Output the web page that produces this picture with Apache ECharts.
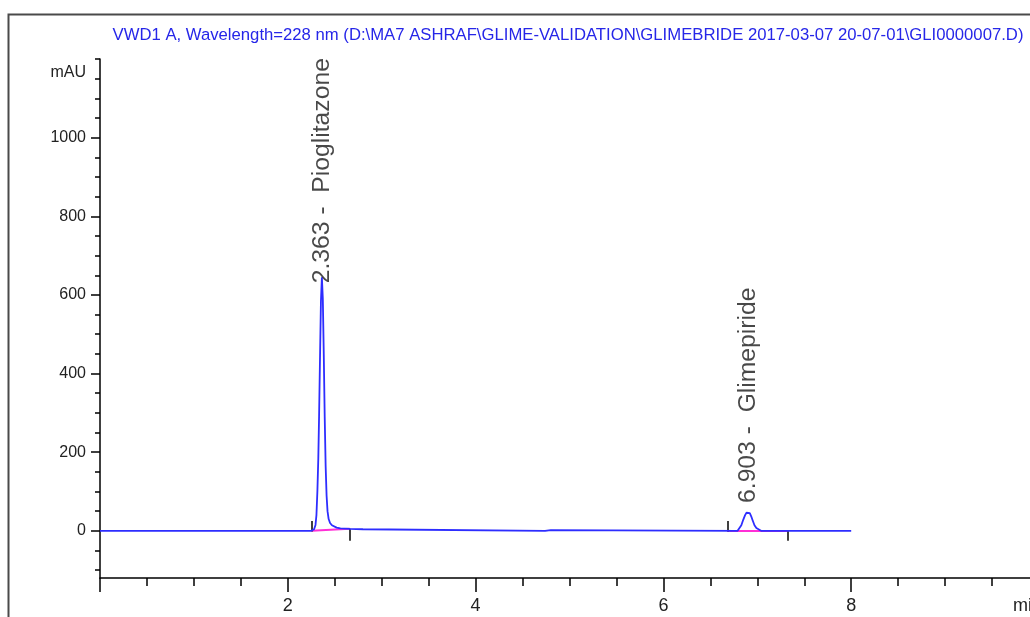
<!DOCTYPE html>
<html>
<head>
<meta charset="utf-8">
<script src="https://cdn.jsdelivr.net/npm/echarts@6/dist/echarts.min.js"></script>
<style>
html,body{margin:0;padding:0;background:#ffffff;}
#chart{width:1030px;height:617px;}
</style>
</head>
<body>
<div id="chart"></div>
<script>
// ---- data ----
const titleText = 'VWD1 A, Wavelength=228 nm (D:\\MA7 ASHRAF\\GLIME-VALIDATION\\GLIMEBRIDE 2017-03-07 20-07-01\\GLI0000007.D)';
const yUnit = 'mAU';
const xUnit = 'min';
const yMajorTicks = [0, 200, 400, 600, 800, 1000];
const yMinorTicks = [-100, -50, 50, 100, 150, 250, 300, 350, 450, 500, 550, 650, 700, 750, 850, 900, 950, 1050, 1100, 1150, 1200];
const xLabelTicks = [2, 4, 6, 8];

// chromatogram trace (time in min, signal in mAU)
const traceTime = [
  0, 2.25, 2.28, 2.295, 2.305, 2.315, 2.325, 2.333, 2.343, 2.353, 2.363,
  2.373, 2.383, 2.393, 2.403, 2.413, 2.423, 2.435, 2.45, 2.47, 2.49, 2.52,
  2.56, 2.66, 2.80, 2.81, 4.74, 4.75, 4.80, 4.81,
  6.79, 6.81, 6.83, 6.85, 6.87, 6.885, 6.903, 6.92, 6.935, 6.95, 6.97, 6.99,
  7.01, 7.04, 8.0
];
const traceValue = [
  0, 0, 4, 15, 40, 100, 185, 290, 440, 585, 645,
  590, 450, 290, 165, 90, 50, 30, 20, 14, 11, 8,
  6, 5, 4, 0, 0, 2, 2, 0,
  0, 4, 14, 28, 40, 46, 48, 45, 37, 27, 14, 7,
  3, 0, 0
];

// peak annotations
const peakTimes = [2.363, 6.903];
const peakHeights = [645, 48];
const peakNames = ['Pioglitazone', 'Glimepiride'];

// integration events: start / end times and baseline values
const integStart = [2.255, 6.68];
const integStartValue = [0, 0];
const integEnd = [2.66, 7.32];
const integEndValue = [5, 0];
const tickUp = 25;      // start-marker extent (mAU)
const tickDown = -25;   // end-marker extent (mAU)

// ---- build chart ----
const FONT = "'Liberation Sans',Arial,sans-serif";

const trace = traceTime.map((t, i) => [t, traceValue[i]]);

const baselineLines = integStart.map((s, i) => [
  { coord: [s, integStartValue[i]] },
  { coord: [integEnd[i], integEndValue[i]] }
]);
const markerLines = [];
integStart.forEach((s, i) => {
  markerLines.push([{ coord: [s, integStartValue[i] - 2] }, { coord: [s, tickUp] }]);
  markerLines.push([{ coord: [integEnd[i], integEndValue[i]] }, { coord: [integEnd[i], tickDown] }]);
});

const labelDistance = [-6, 9];
const peakPoints = peakTimes.map((t, i) => ({
  value: [t, peakHeights[i]],
  label: { distance: labelDistance[i] }
}));

const chart = echarts.init(document.getElementById('chart'), null, { renderer: 'canvas' });
chart.setOption({
  animation: false,
  backgroundColor: '#ffffff',
  title: {
    text: titleText,
    left: 563,
    textAlign: 'center',
    top: 22,
    textStyle: { fontFamily: FONT, fontSize: 16.7, fontWeight: 'normal', color: '#2626e8' }
  },
  graphic: [{
    type: 'rect',
    shape: { x: 8.5, y: 14.5, width: 1100, height: 700 },
    style: { fill: 'none', stroke: '#4a4a4a', lineWidth: 2 },
    silent: true,
    z: -1
  }],
  grid: { left: 100, top: 59, height: 519, width: 939, containLabel: false, outerBoundsMode: 'none' },
  xAxis: {
    type: 'value',
    min: 0, max: 10, interval: 2,
    name: xUnit,
    nameLocation: 'end',
    nameGap: -26,
    nameTextStyle: { fontFamily: FONT, fontSize: 18, color: '#222', align: 'left', verticalAlign: 'top', padding: [19, 0, 0, 0] },
    axisLine: { show: true, onZero: false, lineStyle: { color: '#000', width: 1.5 } },
    axisTick: { show: true, inside: false, length: 14, lineStyle: { color: '#000', width: 1.5 } },
    minorTick: { show: true, splitNumber: 4, length: 8, lineStyle: { color: '#000', width: 1.5 } },
    axisLabel: { customValues: xLabelTicks, margin: 19, fontFamily: FONT, fontSize: 18, color: '#222' },
    splitLine: { show: false },
    minorSplitLine: { show: false }
  },
  yAxis: [{
    type: 'value',
    position: 'left',
    min: -120, max: 1200,
    name: yUnit,
    nameLocation: 'end',
    nameGap: -14,
    nameTextStyle: { fontFamily: FONT, fontSize: 16, color: '#222', align: 'right', verticalAlign: 'middle', padding: [0, 14, 0, 0] },
    axisLine: { show: true, onZero: false, lineStyle: { color: '#000', width: 1.5 } },
    axisTick: { show: true, inside: false, customValues: yMajorTicks, length: 9, lineStyle: { color: '#000', width: 1.5 } },
    axisLabel: { customValues: yMajorTicks, margin: 14, fontFamily: FONT, fontSize: 16, color: '#222', formatter: v => String(v) },
    splitLine: { show: false }
  }, {
    type: 'value',
    position: 'left',
    offset: 0,
    min: -120, max: 1200,
    axisLine: { show: false },
    axisTick: { show: true, inside: false, customValues: yMinorTicks, length: 5, lineStyle: { color: '#000', width: 1.5 } },
    axisLabel: { show: false },
    splitLine: { show: false }
  }],
  series: [{
    name: 'integration',
    type: 'line',
    data: [],
    silent: true,
    markLine: {
      silent: true,
      symbol: ['none', 'none'],
      label: { show: false },
      data: baselineLines,
      lineStyle: { color: '#ff2fd6', width: 2, type: 'solid' }
    },
    z: 3
  }, {
    name: 'events',
    type: 'line',
    data: [],
    silent: true,
    markLine: {
      silent: true,
      symbol: ['none', 'none'],
      label: { show: false },
      data: markerLines,
      lineStyle: { color: '#000', width: 1.5, type: 'solid' }
    },
    z: 4
  }, {
    name: 'VWD1 A',
    type: 'line',
    data: trace,
    showSymbol: false,
    symbol: 'none',
    lineStyle: { color: '#2d2dff', width: 1.8 },
    z: 5
  }, {
    name: 'peaks',
    type: 'scatter',
    data: peakPoints,
    symbolSize: 0,
    label: {
      show: true,
      position: 'top',
      rotate: 90,
      align: 'left',
      verticalAlign: 'middle',
      fontFamily: FONT,
      fontSize: 24.7,
      color: '#1a1a1a',
      formatter: p => peakTimes[p.dataIndex].toFixed(3) + ' -  ' + peakNames[p.dataIndex]
    },
    z: 6
  }]
});
</script>
</body>
</html>
